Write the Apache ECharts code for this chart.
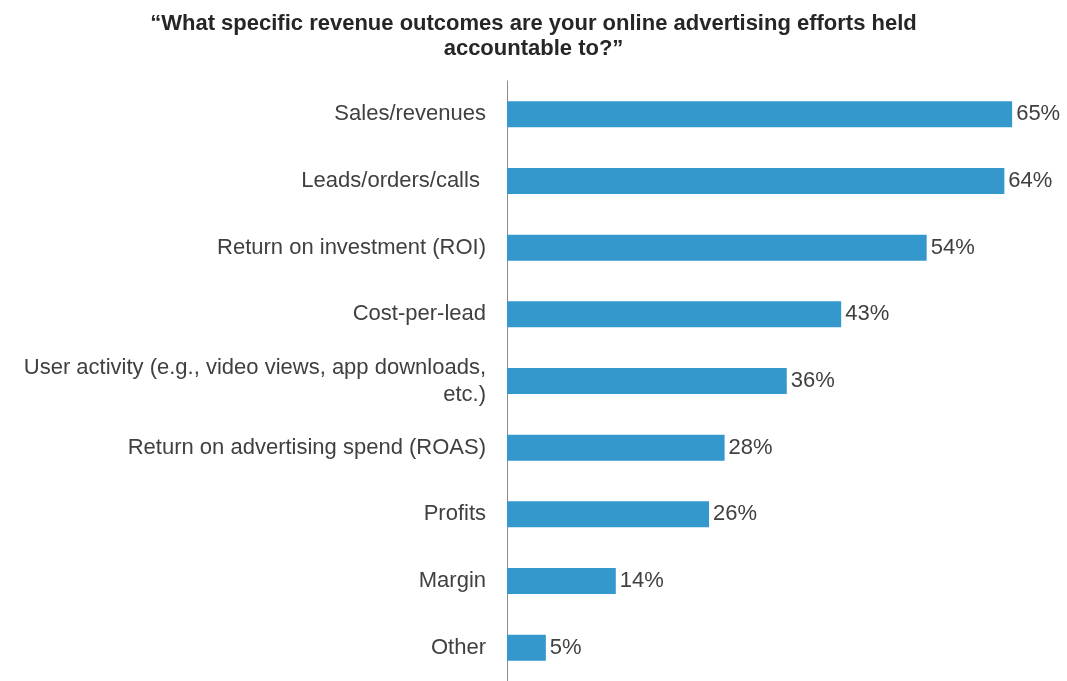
<!DOCTYPE html>
<html>
<head>
<meta charset="utf-8">
<script src="https://cdn.jsdelivr.net/npm/echarts@6/dist/echarts.min.js"></script>
<style>
  html, body { margin: 0; padding: 0; background: #ffffff; }
  #chart { width: 1067px; height: 681px; }
</style>
</head>
<body>
<div id="chart"></div>
<script>
// Survey answers, top to bottom
const categories = [
  'Sales/revenues',
  'Leads/orders/calls ',
  'Return on investment (ROI)',
  'Cost-per-lead',
  'User activity (e.g., video views, app downloads,\netc.)',
  'Return on advertising spend (ROAS)',
  'Profits',
  'Margin',
  'Other'
];
// Share of respondents, percent
const shares = [65, 64, 54, 43, 36, 28, 26, 14, 5];

const titleText = '\u201cWhat specific revenue outcomes are your online advertising efforts held\naccountable to?\u201d';

const FONT = '"Liberation Sans", Arial, sans-serif';

const chart = echarts.init(document.getElementById('chart'), null, { renderer: 'canvas' });
chart.setOption({
  backgroundColor: '#ffffff',
  animation: false,
  title: {
    text: titleText,
    left: 'center',
    top: 6,
    textStyle: {
      fontFamily: FONT,
      fontSize: 22,
      fontWeight: 'bold',
      color: '#262626',
      lineHeight: 25,
      align: 'center'
    }
  },
  grid: {
    left: 507,
    top: 81,
    width: 544,
    height: 604,
    containLabel: false
  },
  xAxis: {
    type: 'value',
    min: 0,
    max: 70,
    show: false
  },
  yAxis: {
    type: 'category',
    data: categories,
    inverse: true,
    axisLine: { show: true, lineStyle: { color: '#8c8c8c', width: 1 } },
    axisTick: { show: false },
    axisLabel: {
      margin: 21,
      fontFamily: FONT,
      fontSize: 22,
      color: '#404040',
      lineHeight: 27,
      align: 'right'
    }
  },
  series: [{
    type: 'bar',
    data: shares,
    barWidth: 26,
    itemStyle: { color: '#3598cd' },
    label: {
      show: true,
      position: 'right',
      distance: 4,
      formatter: p => p.value + '%',
      fontFamily: FONT,
      fontSize: 22,
      color: '#404040'
    }
  }]
});
</script>
</body>
</html>
